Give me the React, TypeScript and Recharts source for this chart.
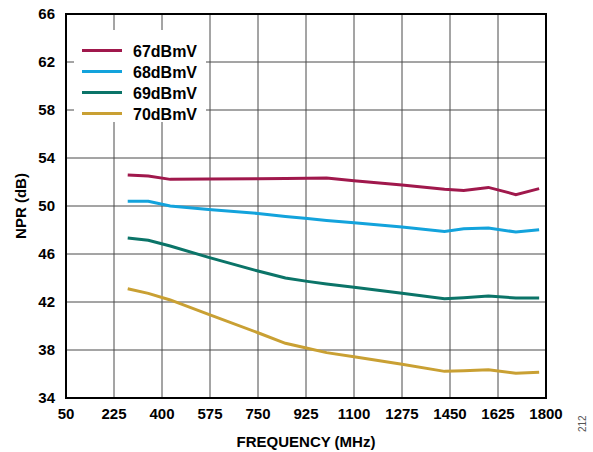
import React from 'react';
import { LineChart, Line, XAxis, YAxis, CartesianGrid, ReferenceArea, Legend, Label } from 'recharts';

const freqs = [275, 350, 430, 570, 750, 850, 930, 1000, 1100, 1275, 1430, 1500, 1590, 1690, 1775];
const npr67 = [52.58, 52.5, 52.22, 52.25, 52.28, 52.3, 52.32, 52.33, 52.1, 51.75, 51.4, 51.3, 51.55, 50.95, 51.45];
const npr68 = [50.4, 50.4, 50.0, 49.7, 49.38, 49.12, 48.95, 48.8, 48.6, 48.25, 47.88, 48.1, 48.17, 47.83, 48.03];
const npr69 = [47.33, 47.14, 46.67, 45.72, 44.58, 44.0, 43.72, 43.5, 43.22, 42.72, 42.28, 42.36, 42.5, 42.33, 42.33];
const npr70 = [43.11, 42.72, 42.17, 40.97, 39.44, 38.56, 38.14, 37.78, 37.44, 36.81, 36.22, 36.28, 36.36, 36.06, 36.14];

const seriesNames = ['67dBmV', '68dBmV', '69dBmV', '70dBmV'];
const seriesKeys = ['s67', 's68', 's69', 's70'];
const seriesColors = ['#A0184C', '#13A3DC', '#0B7468', '#C9A033'];

const xTicks = [50, 225, 400, 575, 750, 925, 1100, 1275, 1450, 1625, 1800];
const yTicks = [34, 38, 42, 46, 50, 54, 58, 62, 66];

const data = freqs.map((f, i) => ({
  freq: f,
  s67: npr67[i],
  s68: npr68[i],
  s69: npr69[i],
  s70: npr70[i],
}));

const FONT = '"Liberation Sans", Arial, sans-serif';
const tickStyle = { fontFamily: FONT, fontWeight: 700, fontSize: 15, fill: '#000' };

const LegendBox = () => (
  <div
    style={{
      background: '#fff',
      width: 132,
      height: 92,
      boxSizing: 'border-box',
      paddingTop: 11,
      paddingLeft: 8,
      fontFamily: FONT,
      fontWeight: 700,
      fontSize: 16,
      color: '#000',
    }}
  >
    {seriesNames.map((n, i) => (
      <div key={n} style={{ display: 'flex', alignItems: 'center', height: 21 }}>
        <div style={{ width: 40, height: 3, background: seriesColors[i], marginRight: 11, marginTop: -2 }} />
        <span style={{ lineHeight: '21px' }}>{n}</span>
      </div>
    ))}
  </div>
);

const YLabel = (props: any) => {
  const vb = props.viewBox || {};
  const x = 20;
  const y = vb.y + vb.height / 2;
  return (
    <text
      x={x}
      y={y}
      transform={`rotate(-90 ${x} ${y})`}
      textAnchor="middle"
      dominantBaseline="central"
      style={{ fontFamily: FONT, fontWeight: 700, fontSize: 15, fill: '#000' }}
    >
      NPR (dB)
    </text>
  );
};

export default function App() {
  return (
    <div style={{ position: 'absolute', left: 0, top: 0, width: 593, height: 452, background: '#fff' }}>
      <LineChart
        width={593}
        height={452}
        data={data}
        margin={{ top: 14, right: 47, bottom: 0, left: 0 }}
      >
        <CartesianGrid stroke="#4a4a4a" strokeWidth={1} horizontalValues={yTicks} verticalValues={xTicks} />
        <XAxis
          dataKey="freq"
          type="number"
          domain={[50, 1800]}
          ticks={xTicks}
          interval={0}
          height={54}
          axisLine={false}
          tickLine={false}
          tickSize={6}
          tickMargin={4}
          tick={tickStyle}
        >
          <Label
            value="FREQUENCY (MHz)"
            position="insideBottom"
            offset={5}
            style={{ fontFamily: FONT, fontWeight: 700, fontSize: 15, fill: '#000' }}
          />
        </XAxis>
        <YAxis
          type="number"
          domain={[34, 66]}
          ticks={yTicks}
          interval={0}
          width={66}
          axisLine={false}
          tickLine={false}
          tickSize={6}
          tickMargin={5}
          tick={tickStyle}
        >
          <Label content={<YLabel />} />
        </YAxis>
        <ReferenceArea x1={50} x2={1800} y1={34} y2={66} fill="none" stroke="#000" strokeWidth={2} ifOverflow="visible" />
        <Legend
          layout="horizontal"
          verticalAlign="middle"
          align="center"
          wrapperStyle={{ position: 'absolute', left: 74, top: 30, width: 132, height: 92 }}
          content={() => <LegendBox />}
        />
        {seriesKeys.map((k, i) => (
          <Line
            key={k}
            type="linear"
            dataKey={k}
            name={seriesNames[i]}
            stroke={seriesColors[i]}
            strokeWidth={3}
            dot={false}
            activeDot={false}
            isAnimationActive={false}
          />
        ))}
      </LineChart>
      <div
        style={{
          position: 'absolute',
          left: 577,
          top: 432,
          transform: 'rotate(-90deg)',
          transformOrigin: 'left top',
          fontFamily: FONT,
          fontSize: 10,
          color: '#555',
          lineHeight: '12px',
        }}
      >
        212
      </div>
    </div>
  );
}
